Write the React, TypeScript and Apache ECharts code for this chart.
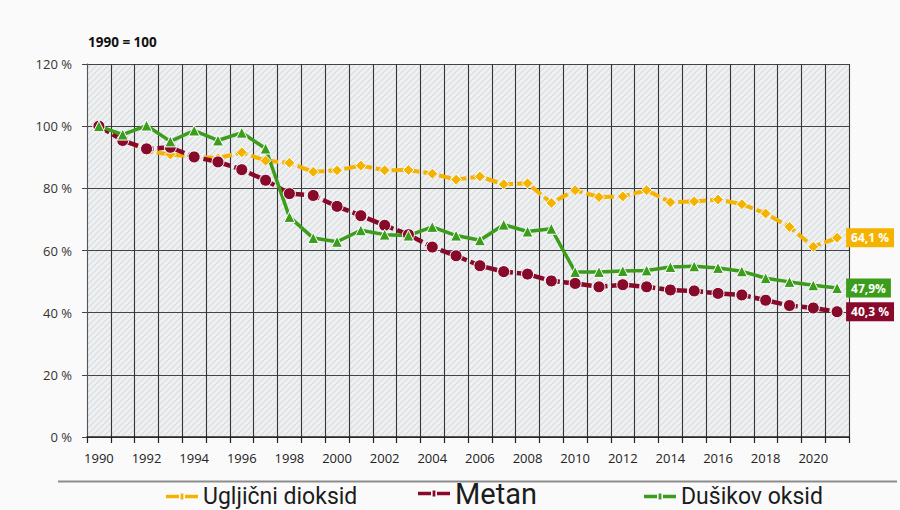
import React, { useEffect, useRef } from "react";
import * as echarts from "echarts";

const years = ["1990","1991","1992","1993","1994","1995","1996","1997","1998","1999","2000","2001","2002","2003","2004","2005","2006","2007","2008","2009","2010","2011","2012","2013","2014","2015","2016","2017","2018","2019","2020","2021"];
const co2 = [100, 95.8, 92.0, 90.9, 90.2, 89.7, 91.6, 88.9, 88.2, 85.3, 85.8, 87.3, 85.8, 85.9, 84.7, 82.8, 83.8, 81.3, 81.6, 75.3, 79.4, 77.2, 77.4, 79.4, 75.5, 75.8, 76.4, 74.9, 71.9, 67.6, 61.2, 64.1];
const metan = [100, 95.4, 92.7, 93.2, 90.1, 88.5, 86.0, 82.6, 78.3, 77.7, 74.2, 71.2, 68.1, 65.1, 61.1, 58.3, 55.1, 53.2, 52.4, 50.2, 49.4, 48.3, 49.0, 48.3, 47.3, 47.0, 46.2, 45.7, 44.0, 42.3, 41.5, 40.3];
const n2o = [100, 97.3, 100.2, 95.1, 98.6, 95.4, 97.9, 92.8, 70.8, 64.0, 62.8, 66.5, 65.1, 64.8, 67.6, 64.8, 63.3, 68.3, 66.1, 67.0, 53.1, 53.1, 53.4, 53.6, 54.7, 54.9, 54.4, 53.3, 51.1, 49.9, 48.8, 47.9];
const seriesNames = ["Ugljični dioksid", "Metan", "Dušikov oksid"];
const endLabels = ["64,1 %", "40,3 %", "47,9%"];
const yTicks = { min: 0, max: 120, interval: 20 };
const title = "1990 = 100";

const YELLOW = "#f5b301";
const RED = "#870a2b";
const GREEN = "#3c9d1c";

const LEGEND_ICON = "path://M0,2.2 L13,2.2 L13,3.8 L0,3.8 Z M19,2.2 L32,2.2 L32,3.8 L19,3.8 Z M14.6,1.6 L17.4,1.6 L17.4,4.4 L14.6,4.4 Z";

function makeHatch(): string {
  const c = document.createElement("canvas");
  c.width = 6;
  c.height = 6;
  const ctx = c.getContext("2d")!;
  ctx.fillStyle = "#eef0f2";
  ctx.fillRect(0, 0, 6, 6);
  ctx.strokeStyle = "#d8dcdf";
  ctx.lineWidth = 1.1;
  ctx.beginPath();
  ctx.moveTo(-1, 7); ctx.lineTo(7, -1);
  ctx.moveTo(-4, 4); ctx.lineTo(4, -4);
  ctx.moveTo(2, 10); ctx.lineTo(10, 2);
  ctx.stroke();
  return c.toDataURL();
}

export default function App() {
  const ref = useRef<HTMLDivElement>(null);
  useEffect(() => {
    if (!ref.current) return;
    const chart = echarts.init(ref.current, null, { renderer: "svg" });
    const font = "'Open Sans', 'DejaVu Sans', sans-serif";
    const mk = (name: string, data: number[], color: string, symbol: string, size: number, dashed: boolean, label: string, lw: number) => ({
      name,
      type: "line",
      data,
      symbol,
      symbolSize: size,
      lineStyle: { color, width: lw, type: dashed ? [12, 4] : "solid" },
      itemStyle: { color, borderColor: "#ffffff", borderWidth: 1 },
      endLabel: {
        show: true,
        formatter: label,
        backgroundColor: color,
        color: "#ffffff",
        fontWeight: "bold",
        fontFamily: font,
        fontSize: 12,
        padding: [4, 5, 3, 5],
        distance: 9,
      },
    });
    const legendBase = (left: number, top: number, name: string, fs: number) => ({
      show: true,
      left,
      top,
      padding: 0,
      itemWidth: 32,
      itemHeight: 6,
      symbolKeepAspect: false,
      data: [{ name, icon: LEGEND_ICON }],
      itemStyle: { borderWidth: 0 },
      textStyle: { fontSize: fs, color: "#1c1c1c", fontFamily: "Roboto, sans-serif" },
    });
    chart.setOption({
      animation: false,
      backgroundColor: "#fafafa",
      title: {
        text: title,
        left: 83,
        top: 30,
        textStyle: { fontSize: 13.5, fontWeight: "bold", color: "#111", fontFamily: font },
      },
      grid: {
        left: 87,
        right: 51,
        top: 64,
        bottom: 73,
        show: true,
        borderWidth: 0,
        backgroundColor: { image: makeHatch(), repeat: "repeat", imageWidth: 6, imageHeight: 6 } as any,
      },
      legend: [
        legendBase(166, 485, seriesNames[0], 23),
        legendBase(418, 479, seriesNames[1], 29),
        legendBase(644, 485, seriesNames[2], 23),
      ],
      xAxis: {
        type: "category",
        data: years,
        boundaryGap: true,
        axisLine: { show: true, lineStyle: { color: "#222", width: 1.5 } },
        axisTick: { show: true, interval: 0, length: 6, lineStyle: { color: "#222", width: 1.2 } },
        axisLabel: { interval: 1, margin: 14, fontSize: 13, color: "#222", fontFamily: font },
        splitLine: { show: true, interval: 0, lineStyle: { color: "#353535", width: 1.1 } },
      },
      yAxis: {
        type: "value",
        min: yTicks.min,
        max: yTicks.max,
        interval: yTicks.interval,
        axisLine: { show: true, lineStyle: { color: "#555", width: 1 } },
        axisTick: { show: true, length: 5, lineStyle: { color: "#444" } },
        axisLabel: { formatter: "{value} %", margin: 15, fontSize: 13, color: "#333", fontFamily: font },
        splitLine: { show: true, lineStyle: { color: "#444", width: 1.2 } },
      },
      graphic: [
        {
          type: "line",
          shape: { x1: 58, y1: 481.5, x2: 897, y2: 481.5 },
          style: { stroke: "#8c8c8c", lineWidth: 2 },
          silent: true,
        },
      ],
      series: [
        mk(seriesNames[0], co2, YELLOW, "diamond", 11, true, endLabels[0], 4),
        mk(seriesNames[1], metan, RED, "circle", 12, true, endLabels[1], 4.5),
        mk(seriesNames[2], n2o, GREEN, "triangle", 11, false, endLabels[2], 3.5),
      ],
    });
    return () => chart.dispose();
  }, []);
  return (
    <div
      ref={ref}
      style={{ position: "fixed", left: 0, top: 0, width: 900, height: 510 }}
    />
  );
}
